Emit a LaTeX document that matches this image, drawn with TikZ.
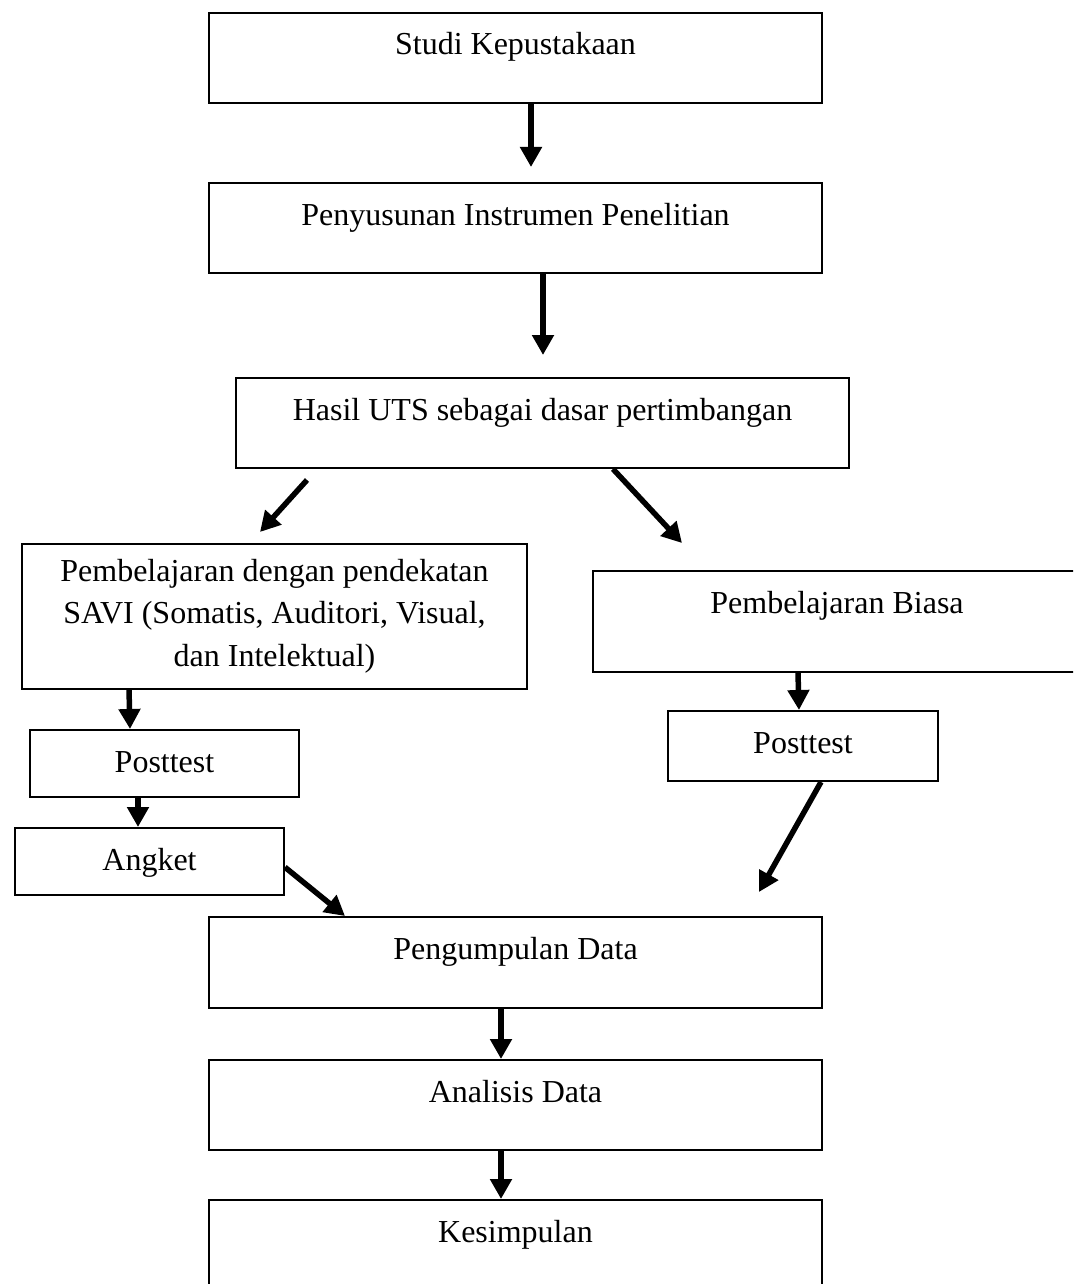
\documentclass[tikz,border=0pt]{standalone}
\usepackage{fontspec}
\setmainfont{Liberation Serif}
\usetikzlibrary{positioning, arrows.meta}

\begin{document}
\begin{tikzpicture}[x=1pt, y=-1pt,
    box/.style={draw, line width=2pt, anchor=north west, inner xsep=0pt, inner ysep=0pt,
                font=\fontsize{32}{42.5}\selectfont},
    onerow/.style={box, text height=42pt},
    arr/.style={line width=5.5pt, -{Triangle[length=20pt, width=21pt]}}]

    % Frame
    \clip (0,0) rectangle (1073,1284);

    % Boxes
    \node[onerow, minimum width=613pt, text depth=48pt] (studi) at (208,12) {Studi Kepustakaan};
    \node[onerow, minimum width=613pt, text depth=48pt] (susun) at (208,182) {Penyusunan Instrumen Penelitian};
    \node[onerow, minimum width=613pt, text depth=48pt] (uts) at (235,377) {Hasil UTS sebagai dasar pertimbangan};
    \node[box, minimum width=505pt, minimum height=144.5pt, align=center] (savi) at (21,543)
      {Pembelajaran dengan pendekatan\\SAVI (Somatis, Auditori, Visual,\\dan Intelektual)};
    \node[onerow, minimum width=488pt, text depth=59pt] (biasa) at (592,570) {Pembelajaran Biasa};
    \node[onerow, minimum width=269pt, text depth=24.5pt] (postL) at (29,729) {Posttest};
    \node[onerow, minimum width=270pt, text depth=28pt] (postR) at (667,710) {Posttest};
    \node[onerow, minimum width=269pt, text depth=24.5pt] (angket) at (14,827) {Angket};
    \node[onerow, minimum width=613pt, text depth=49pt] (kumpul) at (208,916) {Pengumpulan Data};
    \node[onerow, minimum width=613pt, text depth=48pt] (analisis) at (208,1059) {Analisis Data};
    \node[onerow, minimum width=613pt, text depth=108pt] (simpul) at (208,1199) {Kesimpulan};

    % Arrows
    \draw[arr] ([xshift=15.5pt]studi.south) -- ([xshift=15.5pt, yshift=15pt]susun.north);
    \draw[arr] ([xshift=27.5pt]susun.south) -- ([xshift=0.5pt, yshift=22pt]uts.north);
    \draw[arr] ([xshift=72pt, yshift=-11pt]uts.south west) -- ([xshift=-14.5pt, yshift=11pt]savi.north);
    \draw[arr] ([xshift=70.5pt]uts.south) -- ([xshift=90pt, yshift=27pt]biasa.north west);
    \draw[arr] ([xshift=108pt]savi.south west) -- ([xshift=-34.5pt]postL.north);
    \draw[arr] ([xshift=206pt]biasa.south west) -- ([xshift=-4pt]postR.north);
    \draw[arr] ([xshift=-26.5pt]postL.south) -- ([xshift=-11.5pt]angket.north);
    \draw[arr] ([yshift=-6pt]angket.east) -- ([xshift=137pt]kumpul.north west);
    \draw[arr] ([xshift=18pt]postR.south) -- ([xshift=-64pt, yshift=24pt]kumpul.north east);
    \draw[arr] ([xshift=-14.5pt]kumpul.south) -- ([xshift=-14.5pt]analisis.north);
    \draw[arr] ([xshift=-14.5pt]analisis.south) -- ([xshift=-14.5pt]simpul.north);
\end{tikzpicture}
\end{document}
